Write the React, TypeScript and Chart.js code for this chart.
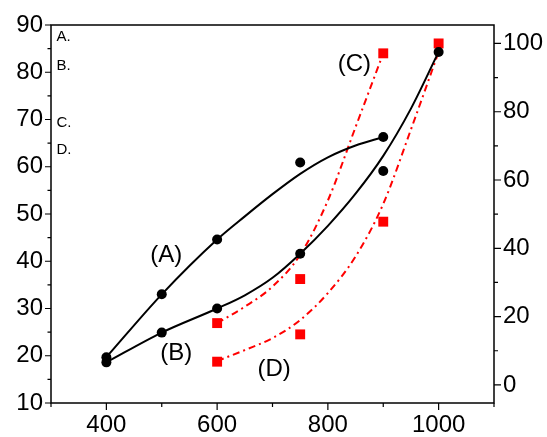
import React, { useEffect, useRef } from "react";
import { Chart, registerables } from "chart.js";

Chart.register(...registerables);

// ---- data ----
const aX = [400, 500, 600, 750, 900];
const aY = [19.7, 33.0, 44.6, 60.9, 66.3];
const bX = [400, 500, 600, 750, 900, 1000];
const bY = [18.6, 24.9, 30.0, 41.6, 59.1, 84.3];
const cX = [600, 750, 900];
const cY = [18.1, 31.0, 97.1];
const dX = [600, 750, 900, 1000];
const dY = [6.8, 14.8, 47.8, 100];

// fitted curves
const aFitX = [400, 500, 600, 650, 700, 750, 800, 850, 900];
const aFitY = [19.7, 33.0, 44.6, 49.5, 54.2, 58.5, 62.0, 64.5, 66.3];
const bFitX = [400, 500, 600, 650, 700, 750, 800, 850, 900, 950, 1000];
const bFitY = [18.6, 24.9, 30.0, 32.8, 36.5, 41.6, 47.5, 54.3, 62.3, 72.3, 84.3];
const cFitX = [600, 650, 700, 750, 800, 850, 900];
const cFitY = [18.1, 22.9, 28.8, 38.1, 54.0, 75.5, 97.1];
const dFitX = [600, 650, 700, 750, 800, 850, 900, 950, 1000];
const dFitY = [7.0, 10.2, 13.7, 19.0, 26.9, 37.6, 53.0, 74.8, 97.5];

// axes
const xMajor = [400, 600, 800, 1000];
const xMinor = [300, 500, 700, 900, 1100];
const leftMajor = [10, 20, 30, 40, 50, 60, 70, 80, 90];
const leftMinor = [15, 25, 35, 45, 55, 65, 75, 85];
const rightMajor = [0, 20, 40, 60, 80, 100];
const rightMinor = [10, 30, 50, 70, 90];

// curve labels (data coords on left axis)
const curveLabels = ["(A)", "(B)", "(C)", "(D)"];
const curveLabelX = [508, 526, 848, 703];
const curveLabelY = [41.3, 20.6, 81.7, 17.2];

// legend letters
const legendLetters = ["A.", "B.", "C.", "D."];
const legendX = 310;
const legendY = [87.4, 81.4, 69.3, 63.5];

const FONT = "'Liberation Sans', Arial, Helvetica, sans-serif";

const pts = (xs: number[], ys: number[]) => xs.map((x, i) => ({ x, y: ys[i] }));

const framePlugin = {
  id: "frameTicks",
  afterDraw(chart: any) {
    const { ctx, chartArea } = chart;
    const { left, right, top, bottom } = chartArea;
    const xs = chart.scales.x;
    const yl = chart.scales.y;
    const yr = chart.scales.y2;
    ctx.save();
    ctx.strokeStyle = "#000";
    ctx.lineWidth = 1.5;
    ctx.strokeRect(left, top, right - left, bottom - top);
    ctx.lineWidth = 1.2;
    ctx.beginPath();
    xMajor.forEach((v) => {
      const p = xs.getPixelForValue(v);
      ctx.moveTo(p, bottom);
      ctx.lineTo(p, bottom + 7);
    });
    xMinor.forEach((v) => {
      const p = xs.getPixelForValue(v);
      ctx.moveTo(p, bottom);
      ctx.lineTo(p, bottom + 4);
    });
    leftMajor.forEach((v) => {
      const p = yl.getPixelForValue(v);
      ctx.moveTo(left, p);
      ctx.lineTo(left - 6, p);
    });
    leftMinor.forEach((v) => {
      const p = yl.getPixelForValue(v);
      ctx.moveTo(left, p);
      ctx.lineTo(left - 3.5, p);
    });
    rightMajor.forEach((v) => {
      const p = yr.getPixelForValue(v);
      ctx.moveTo(right, p);
      ctx.lineTo(right + 7, p);
    });
    rightMinor.forEach((v) => {
      const p = yr.getPixelForValue(v);
      ctx.moveTo(right, p);
      ctx.lineTo(right + 4, p);
    });
    ctx.stroke();

    ctx.fillStyle = "#000";
    ctx.textAlign = "center";
    ctx.textBaseline = "middle";
    ctx.font = `24px ${FONT}`;
    curveLabels.forEach((t, i) => {
      ctx.fillText(t, xs.getPixelForValue(curveLabelX[i]), yl.getPixelForValue(curveLabelY[i]));
    });
    ctx.textAlign = "left";
    ctx.font = `15px ${FONT}`;
    legendLetters.forEach((t, i) => {
      ctx.fillText(t, xs.getPixelForValue(legendX), yl.getPixelForValue(legendY[i]));
    });
    ctx.restore();
  },
};

const fmt = (v: any) => String(v);

export default function App() {
  const ref = useRef<HTMLCanvasElement | null>(null);
  useEffect(() => {
    document.body.style.margin = "0";
    const canvas = ref.current;
    if (!canvas) return;
    const red = "#ff0000";
    const dash = [7, 4, 2, 4];
    const chart = new Chart(canvas, {
      type: "scatter",
      data: {
        datasets: [
          {
            data: pts(aX, aY), yAxisID: "y", order: 0,
            pointRadius: 5, pointBackgroundColor: "#000", pointBorderWidth: 0, showLine: false,
          },
          {
            data: pts(bX, bY), yAxisID: "y", order: 0,
            pointRadius: 5, pointBackgroundColor: "#000", pointBorderWidth: 0, showLine: false,
          },
          {
            data: pts(cX, cY), yAxisID: "y2", order: 1, pointStyle: "rect",
            pointRadius: 7, pointBackgroundColor: red, pointBorderWidth: 0, showLine: false,
          },
          {
            data: pts(dX, dY), yAxisID: "y2", order: 1, pointStyle: "rect",
            pointRadius: 7, pointBackgroundColor: red, pointBorderWidth: 0, showLine: false,
          },
          {
            data: pts(aFitX, aFitY), yAxisID: "y", order: 2, showLine: true, pointRadius: 0,
            borderColor: "#000", borderWidth: 2, cubicInterpolationMode: "monotone",
          },
          {
            data: pts(bFitX, bFitY), yAxisID: "y", order: 2, showLine: true, pointRadius: 0,
            borderColor: "#000", borderWidth: 2, cubicInterpolationMode: "monotone",
          },
          {
            data: pts(cFitX, cFitY), yAxisID: "y2", order: 2, showLine: true, pointRadius: 0,
            borderColor: red, borderWidth: 2, borderDash: dash, cubicInterpolationMode: "monotone",
          },
          {
            data: pts(dFitX, dFitY), yAxisID: "y2", order: 2, showLine: true, pointRadius: 0,
            borderColor: red, borderWidth: 2, borderDash: dash, cubicInterpolationMode: "monotone",
          },
        ] as any,
      },
      options: {
        animation: false,
        responsive: false,
        layout: { padding: { top: 25, left: 0, right: 0, bottom: 0 } },
        plugins: { legend: { display: false }, tooltip: { enabled: false } },
        scales: {
          x: {
            type: "linear", position: "bottom", min: 300, max: 1100,
            grid: { display: false, drawTicks: false },
            border: { display: false },
            afterBuildTicks: (s: any) => { s.ticks = xMajor.map((v) => ({ value: v })); },
            afterFit: (s: any) => { s.height = 34; },
            ticks: { color: "#000", padding: 8, font: { size: 24, family: FONT }, maxRotation: 0, autoSkip: false, callback: fmt },
          },
          y: {
            type: "linear", position: "left", min: 10, max: 90,
            grid: { display: false, drawTicks: false },
            border: { display: false },
            afterBuildTicks: (s: any) => { s.ticks = leftMajor.map((v) => ({ value: v })); },
            afterFit: (s: any) => { s.width = 51; },
            ticks: { color: "#000", padding: 8, font: { size: 24, family: FONT }, autoSkip: false, callback: fmt },
          },
          y2: {
            type: "linear", position: "right", min: -5.3, max: 105.4,
            grid: { display: false, drawTicks: false },
            border: { display: false },
            afterBuildTicks: (s: any) => { s.ticks = rightMajor.map((v) => ({ value: v })); },
            afterFit: (s: any) => { s.width = 53; },
            ticks: { color: "#000", padding: 9, font: { size: 24, family: FONT }, autoSkip: false, callback: fmt },
          },
        },
      } as any,
      plugins: [framePlugin],
    });
    return () => chart.destroy();
  }, []);
  return (
    <div style={{ width: 547, height: 437 }}>
      <canvas ref={ref} width={547} height={437} style={{ display: "block" }} />
    </div>
  );
}
